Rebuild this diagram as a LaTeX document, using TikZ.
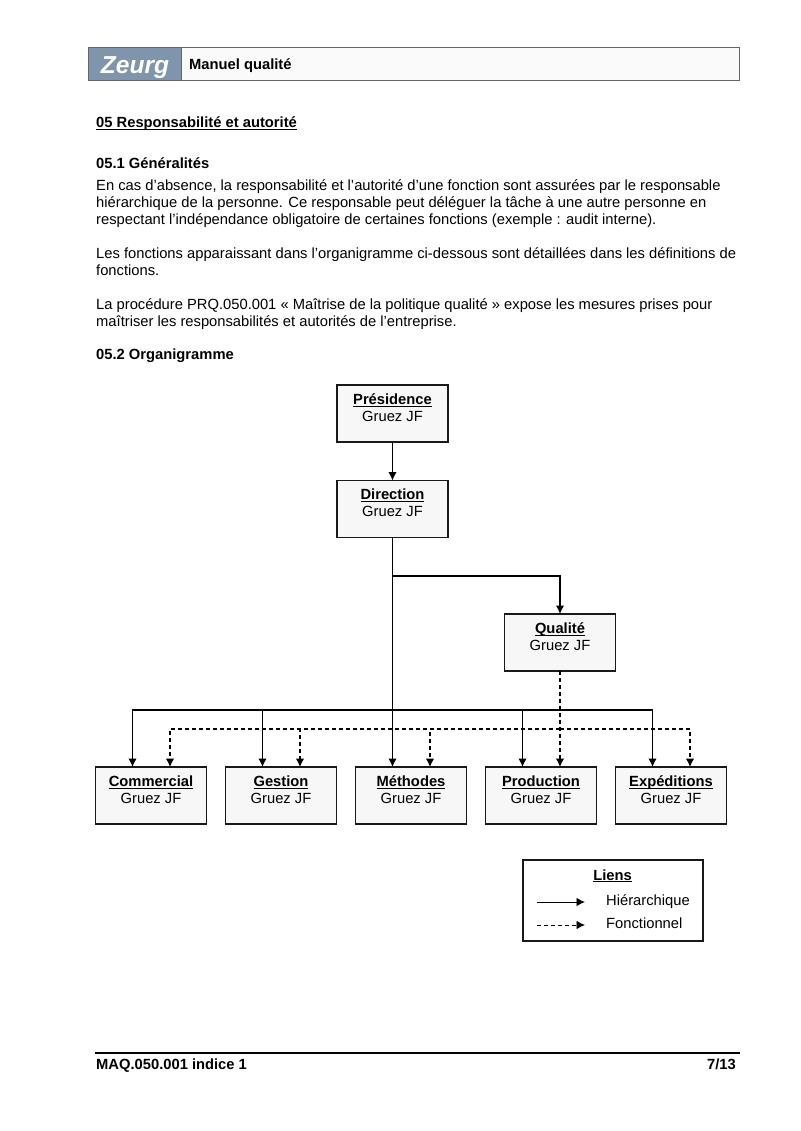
\documentclass[tikz,border=0pt]{standalone}
\usepackage{fontspec}
\setmainfont{Liberation Sans}
\usetikzlibrary{positioning, arrows.meta}
\tikzset{
  line/.style={anchor=base west, inner sep=0pt, font=\fontsize{14.74}{17}\selectfont},
  head/.style={line, font=\fontsize{14.74}{17}\selectfont\bfseries},
  orgbox/.style={draw=black!90, fill=black!3, line width=1.2pt, minimum width=111pt, minimum height=57pt,
    inner sep=0pt, outer sep=0pt, text depth=12pt, align=center, font=\fontsize{14.74}{17}\selectfont},
  hier/.style={line width=1.4pt, -{Latex[length=8.5pt, width=8.5pt]}},
  fonc/.style={line width=1.2pt, dash pattern=on 4pt off 3pt, -{Latex[length=8.5pt, width=8.5pt]}},
}
\newcommand{\ligne}[1]{\underline{\smash{#1}}\vphantom{#1}}
\newcommand{\orgtext}[1]{\ligne{\textbf{#1}}\\Gruez JF}
\begin{document}
\begin{tikzpicture}[x=1pt, y=-1pt]
  \useasboundingbox (0,0) rectangle (800,1131);
  % header
  \node[draw=black!60, fill=black!2, line width=1pt, minimum width=651pt, minimum height=33pt, inner sep=0pt] (header) at (414,64.5) {};
  \node[draw=black!60, fill={rgb,255:red,127;green,149;blue,171}, line width=1pt, minimum width=93pt, minimum height=33pt, inner sep=0pt] (logo) at (134.5,64.5) {};
  \node[anchor=base, inner sep=0pt, text=white, font=\fontsize{24.5}{28}\selectfont\bfseries\itshape] (logotxt) at (135,74) {Zeurg};
  \node[head] (manuel) at (189,70) {Manuel qualité};
  % text
  \node[head] (titre) at (96,128) {\ligne{05 Responsabilité et autorité}};
  \node[head] (sec1) at (96,169) {05.1 Généralités};
  \node[line] (l1) at (96,191) {En cas d'absence, la responsabilité et l'autorité d'une fonction sont assurées par le responsable};
  \node[line] (l2) at (96,208) {hiérarchique de la personne. Ce responsable peut déléguer la tâche à une autre personne en};
  \node[line] (l3) at (96,225) {respectant l'indépendance obligatoire de certaines fonctions (exemple : audit interne).};
  \node[line] (l4) at (96,259) {Les fonctions apparaissant dans l'organigramme ci-dessous sont détaillées dans les définitions de};
  \node[line] (l5) at (96,276) {fonctions.};
  \node[line] (l6) at (96,309) {La procédure PRQ.050.001 « Maîtrise de la politique qualité » expose les mesures prises pour};
  \node[line] (l7) at (96,326) {maîtriser les responsabilités et autorités de l'entreprise.};
  \node[head] (sec2) at (96,359) {05.2 Organigramme};
  % boxes
  \node[orgbox] (presidence) at (392.5,413.5) {\orgtext{Présidence}};
  \node[orgbox, below=38.5pt of presidence] (direction) {\orgtext{Direction}};
  \node[orgbox] (qualite) at (560,642.5) {\orgtext{Qualité}};
  \node[orgbox] (commercial) at (151,795.5) {\orgtext{Commercial}};
  \node[orgbox, right=19pt of commercial] (gestion) {\orgtext{Gestion}};
  \node[orgbox, right=19pt of gestion] (methodes) {\orgtext{Méthodes}};
  \node[orgbox, right=19pt of methodes] (production) {\orgtext{Production}};
  \node[orgbox, right=19pt of production] (expeditions) {\orgtext{Expéditions}};
  % links
  \coordinate (branche) at (392.5,576);
  \coordinate (busH) at (392.5,710);
  \coordinate (busF) at (560,729);
  \draw[hier] (presidence) -- (direction);
  \draw[hier] (direction.south) -- ([xshift=-18.5pt]methodes.north);
  \draw[hier] (branche) -| (qualite.north);
  \draw[fonc] (qualite.south) -- ([xshift=19pt]production.north);
  \foreach \name in {commercial, gestion, production, expeditions}
    \draw[hier] (busH) -| ([xshift=-18.5pt]\name.north);
  \foreach \name in {commercial, gestion, methodes, expeditions}
    \draw[fonc] (busF) -| ([xshift=19pt]\name.north);
  % legend
  \node[draw=black!90, line width=1.2pt, fill=white, minimum width=180pt, minimum height=81pt, inner sep=0pt] (liens) at (613,900.5) {};
  \node[head, anchor=base] (lienstitre) at (612.5,880) {\ligne{Liens}};
  \node[line] (hiertxt) at (606,905) {Hiérarchique};
  \node[line] (fonctxt) at (606,928) {Fonctionnel};
  \coordinate (h1) at (537,902);
  \coordinate (h2) at (585,902);
  \coordinate (f1) at (537,925);
  \coordinate (f2) at (585,925);
  \draw[hier, line width=.9pt] (h1) -- (h2);
  \draw[fonc, line width=.9pt] (f1) -- (f2);
  % footer
  \coordinate (pied1) at (95,1052.5);
  \coordinate (pied2) at (740,1052.5);
  \draw[line width=2pt] (pied1) -- (pied2);
  \node[head] (ref) at (96,1069) {MAQ.050.001 indice 1};
  \node[head, anchor=base east] (page) at (736,1069) {7/13};
\end{tikzpicture}
\end{document}
